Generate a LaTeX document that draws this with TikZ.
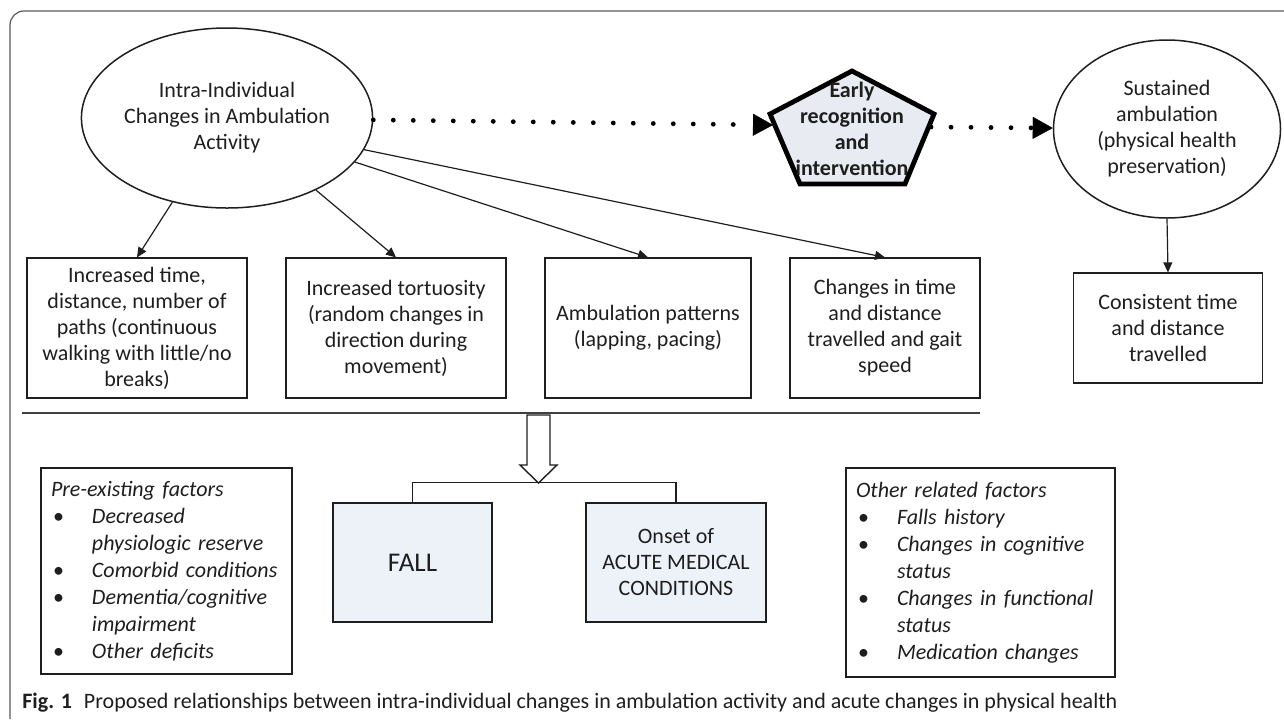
\documentclass[tikz,border=0pt]{standalone}
\usepackage{fontspec}
\setmainfont{Carlito}
\usetikzlibrary{arrows.meta,shapes.geometric}
\definecolor{pentfill}{HTML}{E8EBF1}
\definecolor{boxfill}{HTML}{EDF1F8}
\definecolor{ink}{HTML}{1E1E1E}
\begin{document}
\begin{tikzpicture}[x=0.5pt,y=-0.5pt,
  every node/.style={font=\fontsize{11}{13}\selectfont, inner sep=0pt, text=ink},
  oval/.style={draw=ink, line width=0.75pt, ellipse, align=center},
  rbox/.style={draw=ink, line width=0.6pt, rectangle, align=center},
  listbox/.style={draw=ink, line width=0.7pt, rectangle, align=left, inner xsep=5pt,
     font=\itshape\fontsize{11}{13.5}\selectfont},
  arr/.style={draw=ink, line width=0.6pt, -{Triangle[length=5pt,width=4.5pt]}},
  dotarrow/.style={draw=black, line width=2.4pt, dash pattern=on 0pt off 10pt, line cap=round,
     -{Triangle[length=10pt,width=11pt,line width=0.1pt]}},
]
\useasboundingbox (0,0) rectangle (1284,719);
% outer frame
\draw[draw=black!65, line width=0.6pt, rounded corners=7pt] (1284,11) -- (10,11) -- (10,719);

% top ellipses
\node[oval, minimum width=135pt, minimum height=90pt] (e1) at (227,118)
  {Intra-Individual\\Changes in Ambulation\\Activity};
\node[oval, minimum width=113.5pt, minimum height=89pt] (e2) at (1167,129)
  {Sustained\\ambulation\\(physical health\\preservation)};

% pentagon
\draw[draw=black, line width=2.4pt, fill=pentfill, line join=miter]
  (852,71) -- (934,114) -- (905,184) -- (800,184) -- (770,114) -- cycle;
\node[font=\bfseries\fontsize{11}{13}\selectfont, align=center] (pent) at (852,129)
  {Early\\recognition\\and\\intervention};
\coordinate (pl) at (773,125);
\coordinate (pr) at (931,127);

\draw[dotarrow] (e1) -- (pl);
\draw[dotarrow] (pr) -- (e2);

% box row
\node[rbox, minimum width=110pt, minimum height=70pt] (b1) at (137,328)
  {Increased time,\\distance, number of\\paths (continuous\\walking with little/no\\breaks)};
\node[rbox, minimum width=110pt, minimum height=70pt] (b2) at (396,328)
  {Increased tortuosity\\(random changes in\\direction during\\movement)};
\node[rbox, minimum width=103pt, minimum height=70pt] (b3) at (648,328)
  {Ambulation patterns\\(lapping, pacing)};
\node[rbox, minimum width=95pt, minimum height=70pt] (b4) at (885,328)
  {Changes in time\\and distance\\travelled and gait\\speed};
\node[rbox, minimum width=94.5pt, minimum height=55pt] (cb) at (1168,328)
  {Consistent time\\and distance\\travelled};

\draw[arr] (e1.-123) -- (b1.north);
\draw[arr] (e1.-39) -- (b2.north);
\draw[arr] (e1.-19) -- (b3.north);
\draw[arr] (e1.-13) -- (b4.north);
\draw[arr] (e2.south) -- (cb.north);

% separator
\draw[draw=black!75, line width=1pt] (22,413) -- (980,413);

% hollow arrow
\draw[draw=ink, line width=0.7pt, fill=white, line join=miter]
  (527,415) -- (550,415) -- (550,465) -- (557,465) -- (538.5,483) -- (520,465) -- (527,465) -- cycle;

% outcome boxes
\node[rbox, fill=boxfill, minimum width=79.5pt, minimum height=59.5pt,
  font=\fontsize{13.5}{16}\selectfont] (fall) at (412.5,562.5) {FALL};
\node[rbox, fill=boxfill, minimum width=90pt, minimum height=59.5pt] (onset) at (676,562.5)
  {Onset of\\ACUTE MEDICAL\\CONDITIONS};
\draw[draw=ink, line width=0.7pt] (fall.north) -- ++(0,-20) -| (onset.north);

% factor lists
\node[listbox, text width=115.5pt, minimum height=103pt] (pre) at (166.5,571)
  {Pre-existing factors\\
   \hspace*{1pt}\makebox[19.5pt][l]{\upshape\textbullet}Decreased\\
   \hspace*{20.5pt}physiologic reserve\\
   \hspace*{1pt}\makebox[19.5pt][l]{\upshape\textbullet}Comorbid conditions\\
   \hspace*{1pt}\makebox[19.5pt][l]{\upshape\textbullet}Dementia/cognitive\\
   \hspace*{20.5pt}impairment\\
   \hspace*{1pt}\makebox[19.5pt][l]{\upshape\textbullet}Other deficits};
\node[listbox, text width=124.5pt, minimum height=104.5pt] (oth) at (980.5,572.5)
  {Other related factors\\
   \hspace*{1pt}\makebox[19.5pt][l]{\upshape\textbullet}Falls history\\
   \hspace*{1pt}\makebox[19.5pt][l]{\upshape\textbullet}Changes in cognitive\\
   \hspace*{20.5pt}status\\
   \hspace*{1pt}\makebox[19.5pt][l]{\upshape\textbullet}Changes in functional\\
   \hspace*{20.5pt}status\\
   \hspace*{1pt}\makebox[19.5pt][l]{\upshape\textbullet}Medication changes};

% caption
\node[anchor=west, font=\fontsize{11}{13}\selectfont] (cap) at (22,703)
  {\textbf{Fig. 1}\hspace{6pt}Proposed relationships between intra-individual changes in ambulation activity and acute changes in physical health};
\end{tikzpicture}
\end{document}
